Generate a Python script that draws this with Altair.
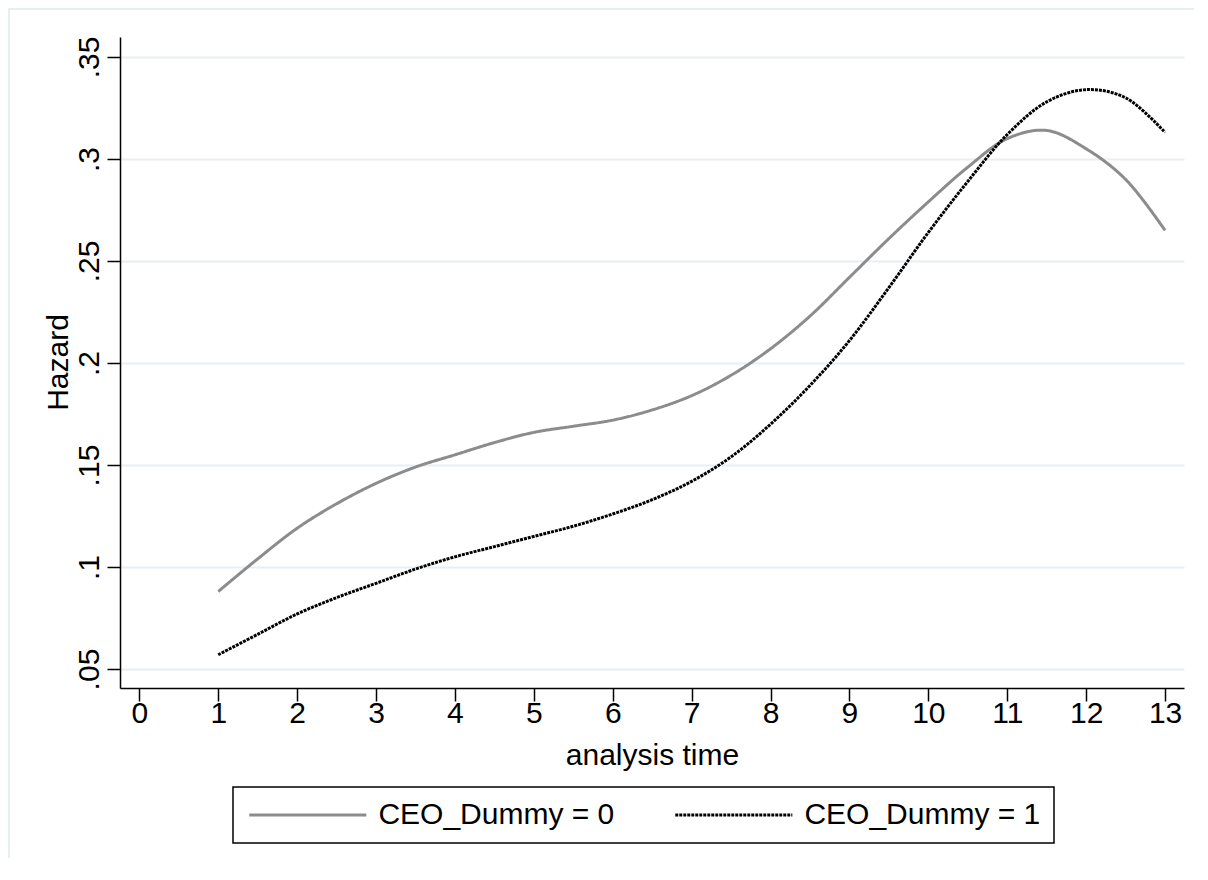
import altair as alt
import pandas as pd

# analysis time grid
t_vals = [1, 1.5, 2, 2.5, 3, 3.5, 4, 4.5, 5, 5.5, 6, 6.5, 7,
          7.5, 8, 8.5, 9, 9.5, 10, 10.5, 11, 11.5, 12, 12.5, 13]
# smoothed hazard, CEO_Dummy = 0 (grey solid)
hazard_ceo0 = [0.088, 0.104, 0.119, 0.131, 0.141, 0.149, 0.155, 0.161, 0.166,
               0.169, 0.172, 0.177, 0.184, 0.194, 0.207, 0.223, 0.242, 0.261,
               0.279, 0.296, 0.310, 0.314, 0.305, 0.290, 0.265]
# smoothed hazard, CEO_Dummy = 1 (black dotted)
hazard_ceo1 = [0.057, 0.067, 0.077, 0.085, 0.092, 0.099, 0.105, 0.110, 0.115,
               0.120, 0.126, 0.133, 0.142, 0.154, 0.170, 0.189, 0.211, 0.237,
               0.264, 0.289, 0.312, 0.328, 0.334, 0.330, 0.313]
series_names = ["CEO_Dummy = 0", "CEO_Dummy = 1"]
x_ticks = list(range(0, 14))
y_ticks = [0.05, 0.1, 0.15, 0.2, 0.25, 0.3, 0.35]

df = pd.DataFrame({
    "t": t_vals * 2,
    "hazard": hazard_ceo0 + hazard_ceo1,
    "series": [series_names[0]] * len(t_vals) + [series_names[1]] * len(t_vals),
})

FONT = "Liberation Sans"
W, H = 1064, 651

lines = alt.Chart(df).mark_line(strokeWidth=3, interpolate="catmull-rom").encode(
    x=alt.X("t:Q",
            scale=alt.Scale(domain=[-0.245, 13.24], nice=False, zero=False),
            axis=alt.Axis(values=x_ticks, format="d", grid=False,
                          title="analysis time", labelBaseline="alphabetic",
                          labelPadding=21, titleBaseline="alphabetic",
                          titleY=76)),
    y=alt.Y("hazard:Q",
            scale=alt.Scale(domain=[0.0407, 0.3598], nice=False, zero=False),
            axis=alt.Axis(values=y_ticks, grid=True, gridColor="#e8eff3",
                          gridWidth=2,
                          labelExpr="slice(format(datum.value, '.2~f'), 1)",
                          labelAngle=270, labelAlign="center",
                          labelBaseline="alphabetic", labelPadding=9,
                          title="Hazard", titleAngle=270, titleAlign="center",
                          titleBaseline="alphabetic", titleX=-53, titleY=325)),
    color=alt.Color("series:N",
                    scale=alt.Scale(domain=series_names, range=["#8c8c8c", "#000000"]),
                    legend=alt.Legend(title=None)),
    strokeDash=alt.StrokeDash("series:N",
                              scale=alt.Scale(domain=series_names, range=[[1, 0], [3, 1]]),
                              legend=alt.Legend(title=None)),
)

frame_df = pd.DataFrame({"k": [0]})
frame_top = alt.Chart(frame_df).mark_rule(color="#e6eef0", strokeWidth=2).encode(
    x=alt.value(-112), x2=alt.value(W + 16), y=alt.value(-28))
frame_left = alt.Chart(frame_df).mark_rule(color="#e6eef0", strokeWidth=2).encode(
    x=alt.value(-111), y=alt.value(-28), y2=alt.value(H + 170))

# legend line symbol: path spanning [-5, 5] scaled by sqrt(size)/2 -> 117 px
SYM_SIZE = 548

chart = alt.layer(frame_top, frame_left, lines).properties(
    width=W, height=H,
    autosize=alt.AutoSizeParams(type="none"),
    padding={"left": 112, "top": 29, "right": 10, "bottom": 170},
    background="white",
).configure_view(stroke=None).configure_axis(
    domainColor="black", domainWidth=1.5, tickColor="black", tickWidth=1.5,
    tickSize=13, labelFont=FONT, labelFontSize=30, labelColor="black",
    titleFont=FONT, titleFontSize=30, titleFontWeight="normal", titleColor="black",
).configure_legend(
    orient="none", legendX=113, legendY=750, direction="horizontal",
    strokeColor="black", strokeWidth=1.5, padding=13, symbolType="M-5,0L5,0",
    symbolSize=SYM_SIZE, symbolOffset=46.8, symbolStrokeWidth=3,
    labelFont=FONT, labelFontSize=30, labelColor="black", labelOffset=55.6,
    columnPadding=54, labelLimit=500,
)

chart.save("out.html", embed_options={"renderer": "svg", "actions": False})
